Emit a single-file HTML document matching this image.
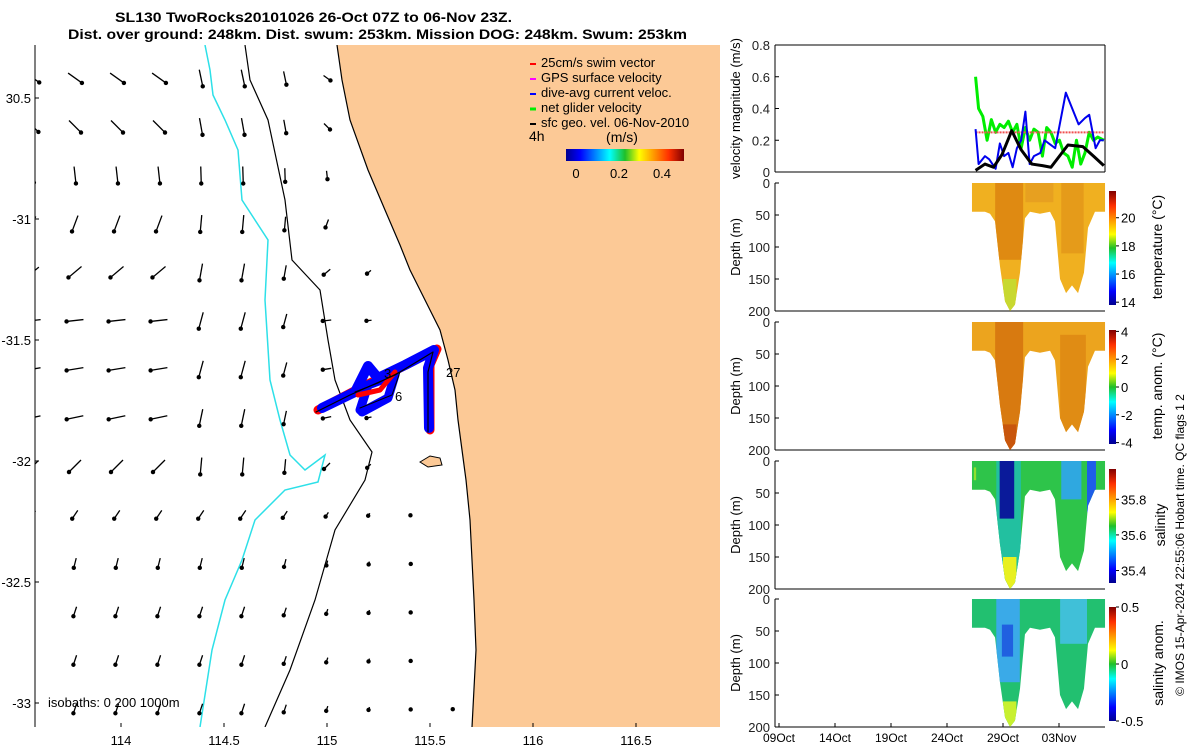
<!DOCTYPE html>
<html><head><meta charset="utf-8"><style>
body{margin:0;background:#fff;}
svg{display:block;font-family:"Liberation Sans",sans-serif;}
</style></head><body>
<svg id="fig" width="1200" height="750" viewBox="0 0 1200 750" xmlns="http://www.w3.org/2000/svg">
<defs>
<linearGradient id="jetH" x1="0" x2="1" y1="0" y2="0">
<stop offset="0" stop-color="#00008f"/><stop offset="0.12" stop-color="#0000ff"/><stop offset="0.37" stop-color="#00ffff"/><stop offset="0.5" stop-color="#1fbf2a"/><stop offset="0.62" stop-color="#ffff00"/><stop offset="0.87" stop-color="#ff3000"/><stop offset="1" stop-color="#800000"/></linearGradient>
<linearGradient id="jetV" x1="0" x2="0" y1="1" y2="0">
<stop offset="0" stop-color="#00008f"/><stop offset="0.12" stop-color="#0000ff"/><stop offset="0.37" stop-color="#00ffff"/><stop offset="0.5" stop-color="#1fbf2a"/><stop offset="0.62" stop-color="#ffff00"/><stop offset="0.87" stop-color="#ff3000"/><stop offset="1" stop-color="#800000"/></linearGradient>
<clipPath id="mapClip"><rect x="35" y="45" width="685" height="682"/></clipPath>
</defs>

<text x="115" y="22" font-size="14" font-weight="bold" textLength="397" lengthAdjust="spacingAndGlyphs">SL130 TwoRocks20101026 26-Oct 07Z to 06-Nov 23Z.</text>
<text x="68" y="39" font-size="14" font-weight="bold" textLength="619" lengthAdjust="spacingAndGlyphs">Dist. over ground: 248km. Dist. swum: 253km. Mission DOG: 248km. Swum: 253km</text>

<g id="map" clip-path="url(#mapClip)">
<rect x="35" y="45" width="685" height="682" fill="#fff"/>
<polygon fill="#fcc996" points="337,45 342,80 350,120 368,170 385,210 400,245 410,270 425,300 440,330 448,360 455,390 458,420 462,450 466,480 470,520 472,560 474,600 476,650 472,727 720,727 720,45"/>
<polygon fill="#fcc996" stroke="#000" stroke-width="1" points="420,462 430,456 440,458 442,465 428,467"/>
<polyline fill="none" stroke="#2de0e8" stroke-width="1.5" points="205,45 210,70 213,95 225,120 238,150 242,200 268,240 265,300 270,380 280,420 290,455 305,470 325,455 318,482 285,490 255,520 242,560 225,600 212,650 200,727"/>
<polyline fill="none" stroke="#000" stroke-width="1.2" points="245,45 250,80 268,120 285,200 292,260 320,290 328,340 335,380 350,420 372,452 365,480 335,530 315,600 290,670 265,727"/>
<polyline fill="none" stroke="#000" stroke-width="1.2" points="337,45 342,80 350,120 368,170 385,210 400,245 410,270 425,300 440,330 448,360 455,390 458,420 462,450 466,480 470,520 472,560 474,600 476,650 472,727"/>
<g id="arrows"></g>
<g fill="none" stroke-linejoin="round" stroke-linecap="round">
<polyline stroke="#f00" stroke-width="9" points="318,410 360,388 400,368 437,349 430,365 430,430"/>
<polyline stroke="#00f" stroke-width="10" points="322,408 355,392 368,366 378,378 405,365 434,350 428,368 429,428"/>
<polyline stroke="#00f" stroke-width="9" points="360,410 368,385 395,375 388,398 362,412"/>
<polyline stroke="#f00" stroke-width="5" points="358,395 380,390 395,372"/>
<polyline stroke="#000" stroke-width="1.2" points="316,412 350,395 395,375 433,352 428,372 428,432"/>
<polyline stroke="#000" stroke-width="1" points="355,392 378,383 400,372 392,395 360,408"/>
</g>
<text x="384" y="378" font-size="13">3</text>
<text x="395" y="401" font-size="13">6</text>
<text x="446" y="377" font-size="13">27</text>
<text x="48" y="707" font-size="13">isobaths: 0   200 1000m</text>
</g>
<line x1="35" y1="45" x2="35" y2="727" stroke="#000"/>
<g id="mapAxes" font-size="13"></g>

<g font-size="13">
<line x1="530" y1="64" x2="536" y2="64" stroke="#f00" stroke-width="2"/><text x="541" y="67">25cm/s swim vector</text>
<line x1="530" y1="79" x2="536" y2="79" stroke="#f0f" stroke-width="2"/><text x="541" y="82">GPS surface velocity</text>
<line x1="530" y1="94" x2="536" y2="94" stroke="#00f" stroke-width="2"/><text x="541" y="97">dive-avg current veloc.</text>
<line x1="530" y1="109" x2="536" y2="109" stroke="#0e0" stroke-width="3"/><text x="541" y="112">net glider velocity</text>
<line x1="530" y1="124" x2="536" y2="124" stroke="#000" stroke-width="2"/><text x="541" y="127">sfc geo. vel. 06-Nov-2010</text>
<text x="529" y="141" font-size="14">4h</text>
<text x="622" y="142" font-size="14" text-anchor="middle">(m/s)</text>
<rect x="566" y="149" width="118" height="12" fill="url(#jetH)"/>
<text x="576" y="178" text-anchor="middle">0</text><text x="619" y="178" text-anchor="middle">0.2</text><text x="662" y="178" text-anchor="middle">0.4</text>
</g>

<g id="right"></g>
<text transform="translate(1184,545) rotate(-90)" font-size="12" text-anchor="middle">© IMOS 15-Apr-2024 22:55:06 Hobart time. QC flags 1  2</text>

<script>
// ---- velocity data (days since 09-Oct) ----
const blackDays=[17.55,18.39,19.15,19.91,20.78,21.62,22.57,23.52,24.28,25.04,25.80,27.13,28.08,29.0];
const blackVals=[0.01,0.05,0.03,0.11,0.26,0.14,0.05,0.04,0.03,0.10,0.17,0.16,0.10,0.04];
const blueDays=[17.55,17.82,18.39,18.77,19.34,19.72,20.10,20.48,20.86,21.24,21.62,22.0,22.38,22.76,23.33,23.71,24.09,24.66,25.61,26.18,26.75,27.32,27.70,28.27,28.65,29.0];
const blueVals=[0.27,0.05,0.10,0.08,0.02,0.18,0.10,0.12,0.03,0.15,0.20,0.38,0.05,0.10,0.12,0.20,0.18,0.15,0.50,0.40,0.30,0.34,0.36,0.15,0.20,0.20];
const greenDays=[17.55,17.82,18.2,18.58,18.96,19.34,19.72,20.10,20.48,20.86,21.24,21.62,22.0,22.38,22.76,23.14,23.52,23.90,24.28,24.66,25.04,25.42,25.80,26.18,26.56,26.94,27.32,27.70,28.08,28.46,29.0];
const greenVals=[0.60,0.40,0.35,0.20,0.33,0.25,0.30,0.28,0.32,0.25,0.30,0.15,0.28,0.20,0.27,0.25,0.10,0.28,0.25,0.18,0.20,0.12,0.10,0.03,0.20,0.05,0.12,0.25,0.20,0.22,0.20];
const swimVal=0.25;
// ---- section outline (max dive depth, m) ----
const secDays=[17.23,18.39,18.84,19.29,19.73,20.18,20.63,21.07,21.52,21.96,22.41,23.30,24.20,24.64,25.09,25.63,26.16,26.70,27.23,27.59,28.21,29.11];
const secDepth=[45,45,48,60,130,185,200,190,140,55,45,48,45,60,150,172,160,172,140,70,45,45];
const dateTicks=["09Oct","14Oct","19Oct","24Oct","29Oct","03Nov"];
const dateTickDays=[0,5,10,15,20,25];
const velTicks=[0,0.2,0.4,0.6,0.8];
const depthTicks=[0,50,100,150,200];
// colour regions per panel: [dayStart, dayEnd, depthStart, depthEnd, colour]
const tempRegions=[[17,30,0,200,"#f0b020"],[19.3,21.8,0,120,"#df8a12"],[22,24.5,0,30,"#e7a020"],[25.2,27.2,0,110,"#e59b1a"],[20,21.2,150,200,"#c8d830"]];
const tanomRegions=[[17,30,0,200,"#eca41e"],[19.3,21.8,0,200,"#d87a10"],[25.1,27.4,20,180,"#e08c14"],[20,21.2,160,200,"#c8560c"]];
const salRegions=[[17,30,0,200,"#2ec44a"],[19.4,21.6,0,200,"#22c0a0"],[19.7,21.0,0,90,"#0a1a9a"],[25.2,27.0,0,60,"#2fa8e0"],[27.5,28.3,0,80,"#1e5ee8"],[20,21.2,150,200,"#e8f020"],[17.4,17.6,10,30,"#90e030"]];
const sanomRegions=[[17,30,0,200,"#22c070"],[19.4,21.5,0,130,"#3aaae8"],[19.9,20.9,40,90,"#2060e0"],[25.1,27.5,0,70,"#40c0d8"],[20,21.2,160,200,"#c8f030"]];

const NS="http://www.w3.org/2000/svg";
function mk(tag,attrs,parent){const e=document.createElementNS(NS,tag);for(const k in attrs)e.setAttribute(k,attrs[k]);parent.appendChild(e);return e;}
const R=document.getElementById('right');
const x0=779,pxDay=11.2,xL=775,xR=1105;
const xs=d=>x0+d*pxDay;

function axisBox(top,bot,ticks,vmin,vmax,label,name,showDates){
  const g=mk('g',{},R);
  
  
  const ys=v=>bot-(v-vmin)/(vmax-vmin)*(bot-top);
  mk('line',{x1:xL,y1:top,x2:xL,y2:bot,stroke:'#000'},g);
  mk('line',{x1:xL,y1:bot,x2:xR,y2:bot,stroke:'#000'},g);
  ticks.forEach(t=>{
    const y=ys(t);
    mk('line',{x1:xL,y1:y,x2:xL+4,y2:y,stroke:'#000'},g);
    const tx=mk('text',{x:xL-5,y:y+5,'font-size':13,'text-anchor':'end',fill:'#222'},g);
    tx.textContent=String(t);
  });
  const lb=mk('text',{transform:`translate(${xL-35},${(top+bot)/2}) rotate(-90)`,'font-size':13,'text-anchor':'middle'},g);
  lb.textContent=label;
  if(showDates){dateTickDays.forEach((d,i)=>{mk('line',{x1:xs(d),y1:bot,x2:xs(d),y2:bot-4,stroke:'#000'},g);const t=mk('text',{x:xs(d),y:bot+15,'font-size':12,'text-anchor':'middle'},g);t.textContent=dateTicks[i];});}
  return {g,ys};
}
// velocity panel
{
  const {g,ys}=axisBox(45,172,velTicks,0,0.8,'velocity magnitude (m/s)','velocity-panel',false);
  mk('line',{x1:xR,y1:45,x2:xR,y2:172,stroke:'#000'},g);
  mk('line',{x1:xL,y1:45,x2:xR,y2:45,stroke:'#000'},g);
  const line=(days,vals,col,w,name,dash)=>{const p=mk('polyline',{points:days.map((d,i)=>xs(d)+','+ys(vals[i])).join(' '),fill:'none',stroke:col,'stroke-width':w,'stroke-linejoin':'round'},g);if(dash)p.setAttribute('stroke-dasharray',dash);};
  line(greenDays,greenVals,'#00ee00',3,'net-glider-velocity-line');
  line([greenDays[0],greenDays[greenDays.length-1]],[swimVal,swimVal],'#f05050',2,'swim-speed-line','2,1');
  line(blueDays,blueVals,'#0000ee',2,'dive-avg-current-line');
  line(blackDays,blackVals,'#000',3,'surface-geo-velocity-line');
}
function section(top,bot,regions,name,cbTicks,cbMin,cbMax,cbLabel,lx,dates){
  const {g,ys}=axisBox(top,bot,depthTicks,200,0,'Depth (m)',name,dates);
  const ysD=d=>top+d/200*(bot-top);
  const cid='clip'+name;
  const cp=mk('clipPath',{id:cid},g);
  const pts=[xs(secDays[0])+','+top].concat(secDays.map((d,i)=>xs(d)+','+ysD(secDepth[i]))).concat([xs(secDays[secDays.length-1])+','+top]);
  mk('polygon',{points:pts.join(' ')},cp);
  const rg=mk('g',{'clip-path':`url(#${cid})`},g);
  regions.forEach(r=>{const e=mk('rect',{x:xs(r[0]),y:ysD(r[2]),width:(r[1]-r[0])*pxDay,height:ysD(r[3])-ysD(r[2]),fill:r[4]},rg);});
  const cbTop=top+8,cbBot=bot-6;
  const cb=mk('rect',{x:1109,y:cbTop,width:7,height:cbBot-cbTop,fill:'url(#jetV)'},g);
  
  
  cbTicks.forEach(t=>{const y=cbBot-(t-cbMin)/(cbMax-cbMin)*(cbBot-cbTop);mk('line',{x1:1116,y1:y,x2:1119,y2:y,stroke:'#000'},g);const tx=mk('text',{x:1121,y:y+5,'font-size':13},g);tx.textContent=String(t);});
  const l1=mk('text',{transform:`translate(${lx},${(top+bot)/2}) rotate(-90)`,'font-size':14,'text-anchor':'middle'},g);l1.textContent=cbLabel;
}
section(183,311,tempRegions,'temperature-panel',[14,16,18,20],13.8,21.9,'temperature (°C)',1162,false);
section(322,450,tanomRegions,'temp-anomaly-panel',[-4,-2,0,2,4],-4.1,4.1,'temp. anom. (°C)',1162,false);
section(461,589,salRegions,'salinity-panel',[35.4,35.6,35.8],35.33,35.97,'salinity',1165,false);
section(599,727,sanomRegions,'salinity-anomaly-panel',[-0.5,0,0.5],-0.5,0.5,'salinity anom.',1163,true);

// ---- map axes ----
const lonTicks=[114,114.5,115,115.5,116,116.5];
const latTicks=[-30.5,-31,-31.5,-32,-32.5,-33];
const lonX=l=>121+(l-114)*206;
const latY=l=>98+(-30.5-l)*242;
const MA=document.getElementById('mapAxes');
lonTicks.forEach(l=>{const t=mk('text',{x:lonX(l),y:745,'text-anchor':'middle'},MA);t.textContent=String(l);mk('line',{x1:lonX(l),y1:727,x2:lonX(l),y2:723,stroke:'#000'},MA);});
latTicks.forEach((l,i)=>{const t=mk('text',{x:31,y:latY(l)+5,'text-anchor':'end'},MA);t.textContent=i==0?'30.5':String(l);mk('line',{x1:35,y1:latY(l),x2:39,y2:latY(l),stroke:'#000'},MA);});

// ---- current arrows (u,v per row; column scale) ----
const rowU=[0.7,0.6,0.1,-0.3,-0.6,-0.9,-0.9,-0.7,-0.3,-0.2,-0.1,-0.1,-0.1,-0.1];
const rowV=[-0.5,-0.6,-0.9,-0.8,-0.5,-0.1,-0.15,-0.15,-0.3,-0.3,-0.4,-0.3,-0.3,-0.3];
const colS=[0.9,1.0,1.0,1.0,1.0,1.0,0.8,0.5,0.3,0.2,0.15];
const A=document.getElementById('arrows');
for(let r=0;r<14;r++){for(let c=0;c<11;c++){
  const cx=33+c*42,cy=78+r*48.5;
  const coast=337+(cy-45)*0.19;
  if(cx>coast-8)continue;
  let u=rowU[r],v=rowV[r],s=colS[c]*(r>8?0.5:0.85);
  if(c>=4&&c<=6&&r<9){u*=0.3;v=-1;}
  const L=20*s, n=Math.hypot(u,v);const dx=u/n*L,dy=-v/n*L;
  const ln=mk('line',{x1:cx-dx/2,y1:cy-dy/2,x2:cx+dx/2,y2:cy+dy/2,stroke:'#000','stroke-width':1.3},A);
  
  
  const hd=mk('circle',{cx:cx+dx/2,cy:cy+dy/2,r:2.2,fill:'#000'},A);
  
  
}}
</script>
</svg>
</body></html>
